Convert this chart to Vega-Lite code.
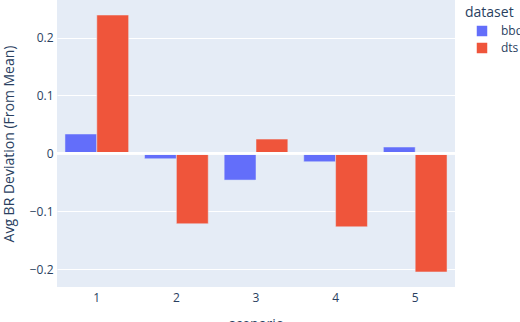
{
  "$schema": "https://vega.github.io/schema/vega-lite/v6.json",
  "width": 398,
  "height": 287,
  "autosize": {"type": "none"},
  "padding": {"left": 57, "top": 0, "right": 65, "bottom": 35},
  "background": "white",
  "config": {
    "font": "Open Sans",
    "view": {"fill": "#E5ECF6", "stroke": null}
  },
  "data": {
    "values": [
      {"scenario": "1", "dataset": "bbq", "value": 0.0334},
      {"scenario": "1", "dataset": "dts", "value": 0.239},
      {"scenario": "2", "dataset": "bbq", "value": -0.0093},
      {"scenario": "2", "dataset": "dts", "value": -0.1217},
      {"scenario": "3", "dataset": "bbq", "value": -0.0462},
      {"scenario": "3", "dataset": "dts", "value": 0.0247},
      {"scenario": "4", "dataset": "bbq", "value": -0.0145},
      {"scenario": "4", "dataset": "dts", "value": -0.127},
      {"scenario": "5", "dataset": "bbq", "value": 0.0109},
      {"scenario": "5", "dataset": "dts", "value": -0.205}
    ]
  },
  "layer": [
    {
      "mark": {"type": "bar", "stroke": "#E5ECF6", "strokeWidth": 0.5},
      "encoding": {
        "x": {
          "field": "scenario",
          "type": "nominal",
          "scale": {"paddingInner": 0.2, "paddingOuter": 0.1},
          "axis": {
            "title": "scenario",
            "labelAngle": 0,
            "labelFontSize": 12,
            "labelColor": "#2a3f5f",
            "labelPadding": 5,
            "ticks": false,
            "domain": false,
            "grid": false,
            "titleFontSize": 14,
            "titleFontWeight": "normal",
            "titleColor": "#2a3f5f",
            "titlePadding": 14
          }
        },
        "xOffset": {"field": "dataset", "type": "nominal"},
        "y": {
          "field": "value",
          "type": "quantitative",
          "scale": {"domain": [-0.231, 0.265], "nice": false, "zero": false},
          "axis": {
            "title": "Avg BR Deviation (From Mean)",
            "values": [-0.2, -0.1, 0, 0.1, 0.2],
            "labelExpr": "datum.value == 0 ? '0' : format(datum.value, '.1f')",
            "labelFontSize": 12,
            "labelColor": "#2a3f5f",
            "labelPadding": 4,
            "ticks": false,
            "domain": false,
            "gridColor": "white",
            "gridWidth": 1,
            "titleFontSize": 14,
            "titleFontWeight": "normal",
            "titleColor": "#2a3f5f",
            "titlePadding": 13
          }
        },
        "color": {
          "field": "dataset",
          "type": "nominal",
          "scale": {"domain": ["bbq", "dts"], "range": ["#636EFA", "#EF553B"]},
          "legend": {
            "orient": "none",
            "legendX": 408,
            "legendY": 6,
            "title": "dataset",
            "titleFontSize": 14,
            "titleFontWeight": "normal",
            "titleColor": "#2a3f5f",
            "titlePadding": 5,
            "labelFontSize": 12,
            "labelColor": "#2a3f5f",
            "labelOffset": 13,
            "symbolType": "square",
            "symbolSize": 110,
            "symbolStrokeWidth": 0,
            "rowPadding": 5,
            "symbolOffset": 11
          }
        }
      }
    },
    {
      "mark": {"type": "rule", "color": "white", "strokeWidth": 2},
      "encoding": {"y": {"datum": 0}}
    }
  ]
}
